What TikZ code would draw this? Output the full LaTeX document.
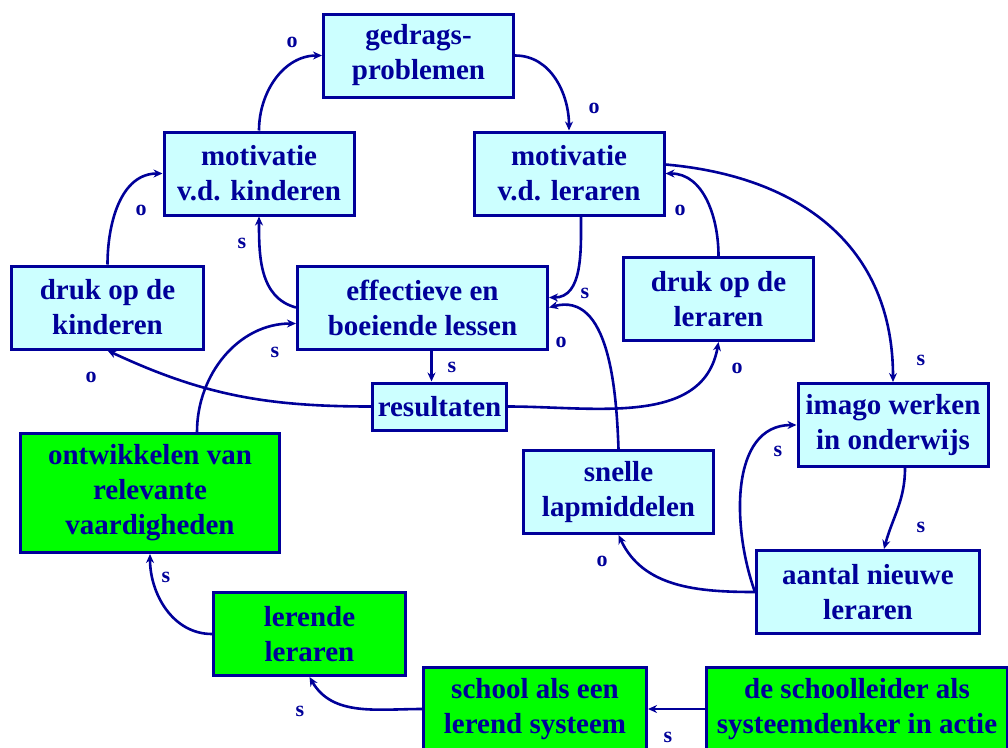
\documentclass[tikz,border=0pt]{standalone}
\usepackage{fontspec}
\setmainfont{Liberation Serif}
\usetikzlibrary{arrows.meta}
\definecolor{NodeBlue}{RGB}{0,0,153}
\definecolor{LightCyan}{RGB}{204,255,255}
\definecolor{BrightGreen}{RGB}{0,255,0}

\begin{document}
\begin{tikzpicture}[x=1pt,y=-1pt,
      >={Stealth[length=9pt,width=8pt]},
      st/.style={draw=NodeBlue,fill=LightCyan,line width=3pt,text=NodeBlue,
                 minimum width=190pt,minimum height=83pt,inner sep=1pt,align=center,
                 font=\bfseries\fontsize{29}{35}\selectfont},
      gr/.style={st,fill=BrightGreen},
      arrow/.style={->,line width=2.6pt,draw=NodeBlue},
      lbl/.style={text=NodeBlue,inner sep=0pt,font=\bfseries\fontsize{22}{22}\selectfont}]
    \useasboundingbox (0,0) rectangle (1008,747);
    \clip (0,0) rectangle (1008,747);
    % loop of the lessons
    \node[st] (gp) at (418.5,55.5) {gedrags-\\ problemen};
    \node[st] (mk) at (259,173.5) {motivatie\\ v.d. kinderen};
    \node[st] (ml) at (569,173.5) {motivatie\\ v.d. leraren};
    \node[st,minimum width=192pt] (dk) at (107.5,307.5) {druk op de\\ kinderen};
    \node[st,minimum width=250pt] (el) at (422.5,307.5) {effectieve en\\ boeiende lessen};
    \node[st] (dl) at (718.5,299) {druk op de\\ leraren};
    \node[st,minimum width=134pt,minimum height=47pt] (rs) at (439.5,406.5) {resultaten};
    % right loop
    \node[st] (im) at (893,425) {imago werken\\ in onderwijs};
    \node[st] (sl) at (618.5,492) {snelle\\ lapmiddelen};
    \node[st,minimum width=223pt] (an) at (868,592) {aantal nieuwe\\ leraren};
    % green levers
    \node[gr,minimum width=259pt,minimum height=119pt] (om) at (150,493) {ontwikkelen van\\ relevante\\ vaardigheden};
    \node[gr,minimum width=192pt] (ll) at (309.5,634) {lerende\\ leraren};
    \node[gr,minimum width=223pt] (sc) at (535,709) {school als een\\ lerend systeem};
    \node[gr,minimum width=301pt] (sd) at (857,709) {de schoolleider als\\ systeemdenker in actie};

    \draw[arrow] (mk.north) to[out=90,in=180] (gp.west);
    \draw[arrow] (gp.east) to[out=0,in=90] (ml.north);
    \draw[arrow] (dk.north) to[out=90,in=180] (mk.west);
    \draw[arrow] (el.west) to[out=165,in=-90] (mk.south);
    \draw[arrow] (dl.north) to[out=90,in=0] (ml.east);
    \draw[arrow] ([xshift=12pt]ml.south) to[out=-90,in=0] ([yshift=10pt]el.east);
    \draw[arrow] (sl.north) to[out=92,in=15] (el.east);
    \draw[arrow] ([xshift=47pt]om.north) to[out=90,in=180] ([yshift=-16pt]el.west);
    \draw[arrow] ([xshift=9pt]el.south) -- ([xshift=9pt]el.south |- rs.north);
    \draw[arrow] (rs.west) to[out=180,in=-25] (dk.south);
    \draw[arrow] (rs.east) to[out=0,in=-100] (dl.south);
    \draw[arrow] ([yshift=9pt]ml.east) to[out=-5,in=90,looseness=1.1] (im.north);
    \draw[arrow] ([xshift=12pt]im.south) to[out=-90,in=75] ([xshift=16pt]an.north);
    \draw[arrow] (an.west) to[out=110,in=180] (im.west);
    \draw[arrow] (an.west) to[out=180,in=-65] (sl.south);
    \draw[arrow] (ll.west) to[out=180,in=-90] (om.south);
    \draw[arrow] (sc.west) to[out=180,in=-60] (ll.south);
    \draw[arrow] (sd.west) -- (sc.east);

    \foreach \n/\x/\y/\t in {1/292/42/o,2/594/108/o,3/141/210/o,4/242/243/s,5/680/210/o,
        6/585/293/s,7/561/342/o,8/275/352/s,9/452/367/s,10/91/377/o,11/737/368/o,
        12/921/360/s,13/778/451/s,14/921/527/s,15/602/561/o,16/166/577/s,17/300/711/s,18/668/737/s}
      \node[lbl] (lab\n) at (\x,\y) {\t};
  \end{tikzpicture}
\end{document}
